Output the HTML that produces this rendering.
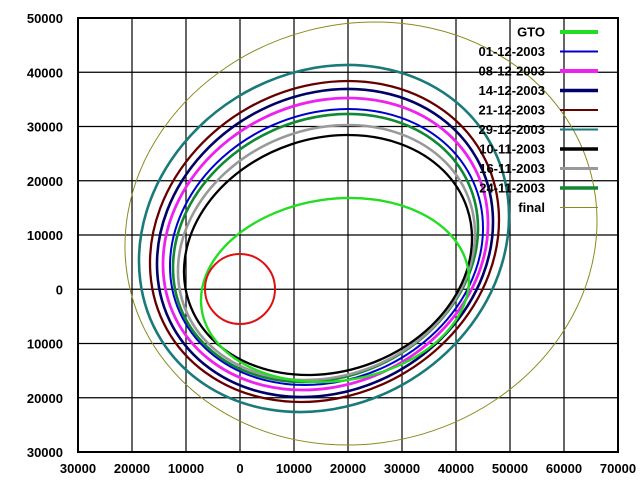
<!DOCTYPE html>
<html><head><meta charset="utf-8"><style>
html,body{margin:0;padding:0;background:#fff;width:641px;height:491px;overflow:hidden}
svg{display:block}
text{font-family:"Liberation Sans",Arial,sans-serif;font-weight:bold;font-size:13px;fill:#000}
</style></head><body>
<svg id="s" width="641" height="491" viewBox="0 0 641 491" xmlns="http://www.w3.org/2000/svg">
<g id="grid" stroke="#000" stroke-width="1.2" fill="none"></g>
<g id="curves" fill="none"></g>
<rect x="78" y="18" width="540" height="434" fill="none" stroke="#000" stroke-width="2"/>
<g id="labels"></g>
<g id="legend"></g>
</svg>
<script>
var NS="http://www.w3.org/2000/svg";
function el(p,t,a,txt){var e=document.createElementNS(NS,t);for(var k in a)e.setAttribute(k,a[k]);if(txt!=null)e.textContent=txt;document.getElementById(p).appendChild(e);return e;}
var L=78,R=618,T=18,B=452,sx=54,sy=54.25;
for(var i=1;i<10;i++){var x=L+i*sx;el('grid','line',{x1:x,y1:T,x2:x,y2:B});}
for(var j=1;j<8;j++){var y=T+j*sy;el('grid','line',{x1:L,y1:y,x2:R,y2:y});}
var xl=["30000","20000","10000","0","10000","20000","30000","40000","50000","60000","70000"];
for(var i=0;i<=10;i++)el('labels','text',{x:L+i*sx,y:473,'text-anchor':'middle'},xl[i]);
var yl=["50000","40000","30000","20000","10000","0","10000","20000","30000"];
for(var j=0;j<=8;j++)el('labels','text',{x:63,y:T+j*sy+5,'text-anchor':'end'},yl[j]);
function ell(l,r,t,b,topx,col,w){
 var cx=(l+r)/2,cy=(t+b)/2,W=(r-l)/2,H=(b-t)/2,k=topx-cx;
 var S=W*W+H*H,C=W*W-H*H,D=2*k*H;var M=Math.sqrt(C*C+D*D);
 var a=Math.sqrt((S+M)/2),bb=Math.sqrt(Math.max((S-M)/2,1));var th=Math.atan2(D,C)/2*180/Math.PI;
 el('curves','ellipse',{cx:cx,cy:cy,rx:a,ry:bb,transform:'rotate('+(-th)+' '+cx+' '+cy+')',stroke:col,'stroke-width':w});
}
ell(125,597,22,445,375,'#8a8a20',1);
ell(139,509,65,412,348,'#1a7a7a',2.6);
ell(150,499,81,402,348,'#660000',2.3);
ell(157,493,89,397,348,'#000066',2.6);
ell(163,488,98,390,348,'#ee22ee',2.8);
ell(170,483,109,385,348,'#0000cc',2);
ell(173,478,114,382,348,'#118833',2.6);
ell(178,475,125,380,348,'#999999',2.6);
ell(184,472,135,375,348,'#000000',2.3);
ell(201,469,198,382,350,'#22dd22',2.4);
el('curves','circle',{cx:240,cy:289,r:35,stroke:'#dd1111','stroke-width':2});
var lg=[["GTO","#22dd22",4],["01-12-2003","#0000cc",2],["08-12-2003","#ee22ee",4],["14-12-2003","#000066",3.5],["21-12-2003","#660000",2],["29-12-2003","#1a7a7a",2],["10-11-2003","#000000",3.5],["16-11-2003","#999999",3],["24-11-2003","#118833",3.5],["final","#8a8a20",1]];
for(var i=0;i<lg.length;i++){var y=32+i*19.5;
 el('legend','text',{x:545,y:y+4.5,'text-anchor':'end'},lg[i][0]);
 el('legend','line',{x1:560,y1:y,x2:598,y2:y,stroke:lg[i][1],'stroke-width':lg[i][2]});}
</script>
</body></html>
